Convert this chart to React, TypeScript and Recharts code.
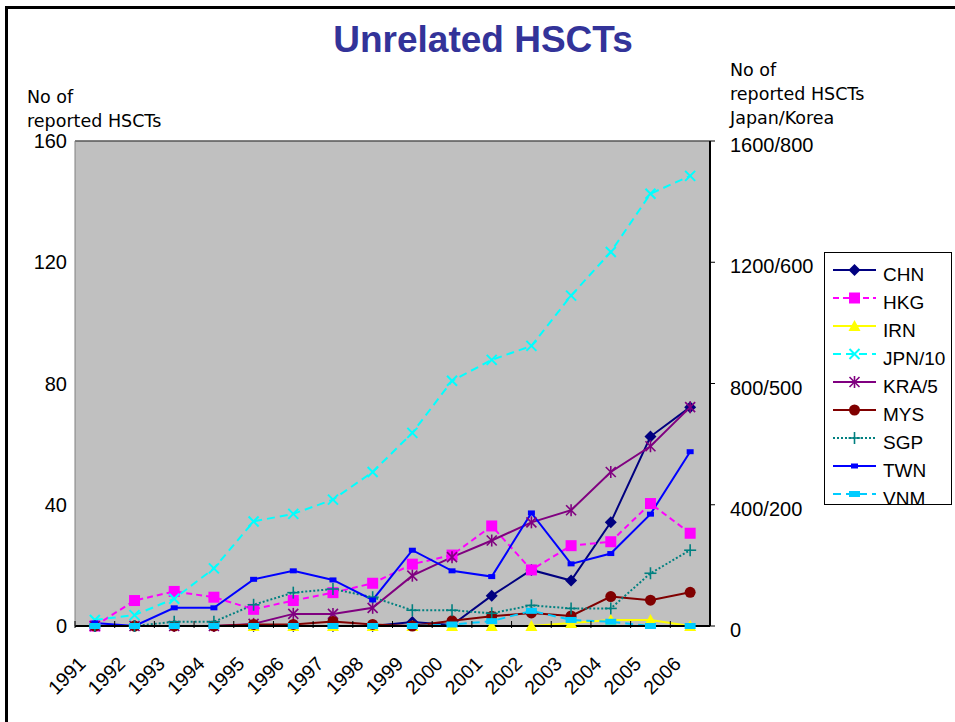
import { LineChart, Line, XAxis, YAxis, CartesianGrid, ReferenceLine } from 'recharts'

const years = ['1991', '1992', '1993', '1994', '1995', '1996', '1997', '1998', '1999', '2000', '2001', '2002', '2003', '2004', '2005', '2006']

const chn = [0, 0, 0, 0, 0, 0, 0, 0, 1.3, 0.3, 10, 18.5, 15, 34.2, 62.5, 72.2]
const hkg = [0, 8.4, 11.4, 9.5, 5.5, 8.4, 11, 14.1, 20.4, 23.4, 33, 18.5, 26.5, 27.8, 40.4, 30.6]
const irn = [null, null, null, null, 0, 0, 0, 0, 0, 0, 0, 0, 1, 2, 2, 0]
const jpn10 = [2, 3.6, 9, 19, 34.5, 37, 41.7, 50.8, 63.7, 80.9, 87.8, 92.4, 109, 123.4, 142.6, 148.5]
const kra5 = [0, 0, 0, 0, 0.7, 4, 4, 6, 16.6, 22.7, 28.2, 34.2, 38.2, 50.8, 59.3, 72.2]
const mys = [0, 0, 0, 0, 0.5, 0.5, 1.5, 0.5, 0, 1.7, 3.2, 4.3, 3.3, 9.7, 8.5, 11.1]
const sgp = [0, 0, 1.4, 1.4, 7, 11, 12.2, 9.5, 5.2, 5.2, 4.2, 6.8, 5.8, 5.8, 17.4, 25]
const twn = [1, 0, 6, 6, 15.4, 18.2, 15.2, 8.6, 25, 18.2, 16.3, 37.3, 20.5, 23.9, 36.9, 57.5]
const vnm = [0, 0, 0, 0, 0, 0, 0, 0, 0, 0.5, 1.6, 5, 2, 1.4, 0, 0]

// gridlines every 20, labels only every 40
const leftTicks = [0, 20, 40, 60, 80, 100, 120, 140, 160]
const rightTicks = [0, 40, 80, 120, 160]
const rightTickLabels = ['0', '400/200', '800/500', '1200/600', '1600/800']

const FONT = '"Liberation Sans", Arial, sans-serif'

type Shape = 'diamond' | 'square' | 'triangle' | 'cross' | 'star' | 'circle' | 'plus' | 'bar' | 'wideBar'

type SeriesDef = {
  key: string
  values: (number | null)[]
  color: string
  dash?: string
  shape: Shape
  axis: 'left' | 'right'
}

// JPN and KRA are scaled onto the Japan/Korea axis
const series: SeriesDef[] = [
  { key: 'CHN', values: chn, color: '#000080', shape: 'diamond', axis: 'left' },
  { key: 'HKG', values: hkg, color: '#FF00FF', dash: '6 4', shape: 'square', axis: 'left' },
  { key: 'IRN', values: irn, color: '#FFFF00', shape: 'triangle', axis: 'left' },
  { key: 'JPN/10', values: jpn10, color: '#00FFFF', dash: '8 5', shape: 'cross', axis: 'right' },
  { key: 'KRA/5', values: kra5, color: '#800080', shape: 'star', axis: 'right' },
  { key: 'MYS', values: mys, color: '#800000', shape: 'circle', axis: 'left' },
  { key: 'SGP', values: sgp, color: '#008080', dash: '2 2', shape: 'plus', axis: 'left' },
  { key: 'TWN', values: twn, color: '#0000FF', shape: 'bar', axis: 'left' },
  { key: 'VNM', values: vnm, color: '#00CCFF', dash: '8 5', shape: 'wideBar', axis: 'left' },
]

const rows = years.map((year, i) => {
  const row: Record<string, string | number | null> = { year }
  series.forEach(s => {
    row[s.key] = s.values[i]
  })
  return row
})

const Marker = ({ cx, cy, shape, color }: { cx: number; cy: number; shape: Shape; color: string }) => {
  switch (shape) {
    case 'diamond':
      return <polygon points={`${cx},${cy - 6} ${cx + 6},${cy} ${cx},${cy + 6} ${cx - 6},${cy}`} fill={color} />
    case 'square':
      return <rect x={cx - 5.5} y={cy - 5.5} width={11} height={11} fill={color} />
    case 'triangle':
      return <polygon points={`${cx},${cy - 6} ${cx + 6},${cy + 5} ${cx - 6},${cy + 5}`} fill={color} />
    case 'cross':
      return (
        <g stroke={color} strokeWidth={2}>
          <line x1={cx - 5} y1={cy - 5} x2={cx + 5} y2={cy + 5} />
          <line x1={cx - 5} y1={cy + 5} x2={cx + 5} y2={cy - 5} />
        </g>
      )
    case 'star':
      return (
        <g stroke={color} strokeWidth={1.6}>
          <line x1={cx - 5} y1={cy - 5} x2={cx + 5} y2={cy + 5} />
          <line x1={cx - 5} y1={cy + 5} x2={cx + 5} y2={cy - 5} />
          <line x1={cx} y1={cy - 6} x2={cx} y2={cy + 6} />
        </g>
      )
    case 'circle':
      return <circle cx={cx} cy={cy} r={5.5} fill={color} />
    case 'plus':
      return (
        <g stroke={color} strokeWidth={1.6}>
          <line x1={cx - 6} y1={cy} x2={cx + 6} y2={cy} />
          <line x1={cx} y1={cy - 6} x2={cx} y2={cy + 6} />
        </g>
      )
    case 'bar':
      return <rect x={cx - 3.5} y={cy - 2.5} width={7} height={5} fill={color} />
    case 'wideBar':
      return <rect x={cx - 5.5} y={cy - 3} width={11} height={6} fill={color} />
    default:
      return null
  }
}

const YearTick = (props: any) => {
  const { x, y, payload } = props
  const half = payload?.offset ?? 0
  return (
    <g>
      <line x1={x - half} y1={y} x2={x - half} y2={y - 7} stroke="#000" strokeWidth={1} />
      <text
        transform={`translate(${x - 8},${y + 37}) rotate(-45)`}
        textAnchor="end"
        fontSize={19.5}
        fontFamily={FONT}
        fill="#000"
      >
        {payload.value}
      </text>
    </g>
  )
}

const RightTick = (props: any) => {
  const { x, y, payload } = props
  const label = rightTickLabels[rightTicks.indexOf(payload.value)] ?? ''
  return (
    <text x={x} y={y + 4} dy="0.355em" textAnchor="start" fontSize={20} fontFamily={FONT} fill="#000">
      {label}
    </text>
  )
}

const Legend = () => (
  <div
    style={{
      position: 'absolute',
      left: 824,
      top: 252,
      width: 126,
      height: 251,
      border: '1px solid #000',
      background: '#fff',
      overflow: 'hidden',
    }}
  >
    <svg width={126} height={252}>
      {series.map((s, i) => {
        const cy = 17 + i * 28
        return (
          <g key={s.key}>
            <line x1={8} y1={cy} x2={51} y2={cy} stroke={s.color} strokeWidth={2} strokeDasharray={s.dash} />
            <Marker cx={29.5} cy={cy} shape={s.shape} color={s.color} />
            <text x={58} y={cy + 11} fontSize={19} fontFamily={FONT} fill="#000">
              {s.key}
            </text>
          </g>
        )
      })}
    </svg>
  </div>
)

export default function App() {
  return (
    <div style={{ position: 'absolute', left: 0, top: 0, width: 955, height: 722, background: '#fff', overflow: 'hidden' }}>
      <div style={{ position: 'absolute', left: 0, top: 0 }}>
        <LineChart width={955} height={722} data={rows} margin={{ top: 141, right: 135, bottom: 26, left: 15 }}>
          <CartesianGrid vertical={false} fill="#C0C0C0" stroke="#000" strokeWidth={1} />
          <XAxis
            dataKey="year"
            scale="band"
            interval={0}
            height={70}
            tickLine={false}
            tickSize={0}
            axisLine={{ stroke: '#000', strokeWidth: 2 }}
            tick={<YearTick />}
          />
          <YAxis
            yAxisId="left"
            domain={[0, 160]}
            ticks={leftTicks}
            width={60}
            tickLine={false}
            tickSize={0}
            tickMargin={8}
            axisLine={{ stroke: '#808080' }}
            tickFormatter={v => (v % 40 === 0 ? String(v) : '')}
            tick={{ fontSize: 20, fill: '#000', fontFamily: FONT }}
          />
          <YAxis
            yAxisId="right"
            orientation="right"
            domain={[0, 160]}
            ticks={rightTicks}
            width={110}
            tickSize={5}
            tickMargin={15}
            tickLine={{ stroke: '#000' }}
            axisLine={{ stroke: '#000', strokeWidth: 2 }}
            tick={<RightTick />}
          />
          <ReferenceLine yAxisId="left" y={160} stroke="#808080" strokeWidth={1} />
          {series.map(s => (
            <Line
              key={s.key}
              yAxisId={s.axis}
              dataKey={s.key}
              type="linear"
              stroke={s.color}
              strokeWidth={2}
              strokeDasharray={s.dash}
              isAnimationActive={false}
              activeDot={false}
              dot={(p: any) =>
                p.cx == null || p.cy == null || p.value == null ? (
                  <g key={`${s.key}-${p.index}`} />
                ) : (
                  <Marker key={`${s.key}-${p.index}`} cx={p.cx} cy={p.cy} shape={s.shape} color={s.color} />
                )
              }
            />
          ))}
        </LineChart>
      </div>
      <svg width={955} height={722} style={{ position: 'absolute', left: 0, top: 0, pointerEvents: 'none' }}>
        <line x1={6.5} y1={6} x2={6.5} y2={722} stroke="#000" strokeWidth={3} />
        <line x1={5} y1={7.5} x2={955} y2={7.5} stroke="#000" strokeWidth={3} />
        <text x={483} y={52} textAnchor="middle" fontSize={37} fontWeight="bold" fontFamily={FONT} fill="#333399">
          Unrelated HSCTs
        </text>
        <g fontFamily='"DejaVu Sans", sans-serif' fontSize={17.5} fill="#000">
          <text x={27} y={103}>No of</text>
          <text x={27} y={127}>reported HSCTs</text>
          <text x={730} y={76}>No of</text>
          <text x={730} y={100}>reported HSCTs</text>
          <text x={730} y={124}>Japan/Korea</text>
        </g>
      </svg>
      <Legend />
    </div>
  )
}
